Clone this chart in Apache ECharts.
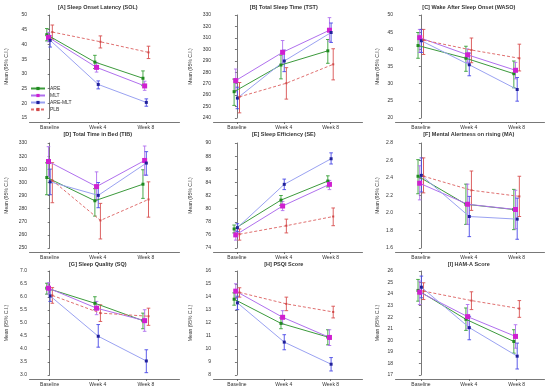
<!DOCTYPE html>
<html><head><meta charset="utf-8">
<script src="https://cdn.jsdelivr.net/npm/echarts@6/dist/echarts.min.js"></script>
<style>html,body{margin:0;padding:0;background:#fff}#c{width:550px;height:391px}</style>
</head><body><div id="c"></div>
<script>
const categories = ['Baseline', 'Week 4', 'Week 8'];
const groups = ['ARE', 'MLT', 'ARE-MLT', 'PLB'];

// rows within each panel: ARE, MLT, ARE-MLT, PLB
const solMean = [[43.3, 34.0, 28.5], [42.4, 32.2, 25.9], [41.4, 26.4, 20.3], [44.2, 40.9, 37.3]];
const solLow  = [[41.2, 31.8, 26.0], [40.9, 30.6, 24.4], [39.1, 24.9, 19.0], [41.8, 38.8, 35.2]];
const solHigh = [[45.4, 36.3, 31.0], [44.1, 33.8, 27.5], [42.9, 27.6, 21.5], [46.6, 42.9, 39.4]];

const tstMean = [[263.0, 286.3, 298.7], [272.7, 297.4, 316.7], [257.4, 289.8, 314.7], [258.5, 270.4, 286.9]];
const tstLow  = [[251.0, 274.2, 287.8], [262.9, 287.0, 307.1], [248.1, 280.5, 306.0], [244.5, 256.5, 273.3]];
const tstHigh = [[274.0, 295.0, 308.6], [282.8, 307.7, 327.7], [266.9, 299.3, 323.0], [271.0, 284.0, 300.5]];

const wasoMean = [[41.1, 37.4, 32.9], [43.4, 38.4, 33.9], [42.5, 35.5, 28.3], [42.7, 39.8, 37.4]];
const wasoLow  = [[37.4, 33.6, 28.8], [39.1, 36.2, 31.4], [39.1, 32.3, 24.9], [38.5, 36.1, 33.7]];
const wasoHigh = [[44.9, 40.9, 36.6], [45.8, 40.1, 36.2], [45.8, 38.9, 31.8], [45.8, 43.3, 41.5]];

const tibMean = [[303.7, 286.0, 298.6], [315.9, 296.8, 316.7], [300.4, 290.1, 314.7], [301.5, 271.0, 287.0]];
const tibLow  = [[290.6, 274.3, 287.8], [304.7, 286.5, 305.5], [290.6, 280.7, 305.5], [284.5, 256.9, 273.5]];
const tibHigh = [[314.9, 295.2, 309.6], [327.2, 308.0, 327.7], [310.1, 299.9, 323.4], [315.0, 284.0, 300.4]];

const seMean = [[76.9, 81.3, 84.2], [76.0, 80.4, 83.7], [77.1, 83.7, 87.6], [76.1, 77.4, 78.8]];
const seLow  = [[76.3, 80.5, 83.3], [75.2, 79.7, 82.9], [76.5, 82.9, 86.8], [75.2, 76.3, 77.4]];
const seHigh = [[77.5, 82.0, 85.0], [76.7, 81.1, 84.3], [77.7, 84.5, 88.5], [76.9, 78.4, 80.1]];

const maMean = [[2.42, 2.10, 2.04], [2.34, 2.10, 2.04], [2.43, 1.96, 1.93], [2.42, 2.26, 2.19]];
const maLow  = [[2.22, 1.87, 1.81], [2.15, 1.87, 1.82], [2.24, 1.73, 1.70], [2.23, 2.03, 1.96]];
const maHigh = [[2.61, 2.33, 2.27], [2.54, 2.33, 2.26], [2.63, 2.19, 2.17], [2.63, 2.48, 2.42]];

const sqMean = [[6.34, 5.76, 5.09], [6.34, 5.57, 5.09], [6.04, 4.49, 3.54], [6.06, 5.38, 5.26]];
const sqLow  = [[6.11, 5.51, 4.78], [6.12, 5.32, 4.68], [5.83, 4.07, 3.09], [5.76, 5.06, 4.91]];
const sqHigh = [[6.53, 6.01, 5.38], [6.55, 5.83, 5.51], [6.27, 4.94, 3.97], [6.36, 5.70, 5.57]];

const psqiMean = [[13.83, 11.97, 10.92], [14.45, 12.44, 10.89], [13.55, 10.53, 8.83], [14.35, 13.47, 12.85]];
const psqiLow  = [[13.37, 11.56, 10.32], [13.88, 11.92, 10.27], [13.03, 9.94, 8.31], [13.99, 12.95, 12.39]];
const psqiHigh = [[14.32, 12.39, 11.48], [15.02, 12.95, 11.48], [14.06, 11.10, 9.34], [14.71, 13.99, 13.29]];

const hamaMean = [[24.32, 21.82, 19.90], [24.17, 22.05, 20.34], [24.60, 21.10, 18.63], [24.26, 23.44, 22.75]];
const hamaLow  = [[23.39, 20.86, 18.89], [23.10, 21.00, 19.32], [23.68, 20.05, 17.52], [23.53, 22.66, 21.99]];
const hamaHigh = [[25.27, 22.80, 20.92], [25.13, 23.10, 21.35], [25.56, 22.08, 19.76], [24.98, 24.20, 23.44]];

const panels = [
  {title: '[A] Sleep Onset Latency (SOL)', mean: solMean, low: solLow, high: solHigh, yMin: 15, yMax: 50, yInt: 5, dec: 0},
  {title: '[B] Total Sleep Time (TST)', mean: tstMean, low: tstLow, high: tstHigh, yMin: 240, yMax: 330, yInt: 10, dec: 0},
  {title: '[C] Wake After Sleep Onset (WASO)', mean: wasoMean, low: wasoLow, high: wasoHigh, yMin: 20, yMax: 50, yInt: 5, dec: 0},
  {title: '[D] Total Time in Bed (TIB)', mean: tibMean, low: tibLow, high: tibHigh, yMin: 250, yMax: 330, yInt: 10, dec: 0},
  {title: '[E] Sleep Efficiency (SE)', mean: seMean, low: seLow, high: seHigh, yMin: 74, yMax: 90, yInt: 2, dec: 0},
  {title: '[F] Mental Alertness on rising (MA)', mean: maMean, low: maLow, high: maHigh, yMin: 1.6, yMax: 2.8, yInt: 0.2, dec: 1},
  {title: '[G] Sleep Quality (SQ)', mean: sqMean, low: sqLow, high: sqHigh, yMin: 3.0, yMax: 7.0, yInt: 0.5, dec: 1},
  {title: '[H] PSQI Score', mean: psqiMean, low: psqiLow, high: psqiHigh, yMin: 8, yMax: 16, yInt: 1, dec: 0},
  {title: '[I] HAM-A Score', mean: hamaMean, low: hamaLow, high: hamaHigh, yMin: 17, yMax: 26, yInt: 1, dec: 0}
];

// layout
const cols = [
  {left: 29.5, xMin: -0.42, xMax: 2.7, width: 150, nameGap: 20},
  {left: 213.5, xMin: -0.5, xMax: 2.68, width: 149, nameGap: 20},
  {left: 395.5, xMin: -0.53, xMax: 2.58, width: 149, nameGap: 15}
];
const rows = [
  {top: 15, height: 103, titleTop: 4},
  {top: 143, height: 105, titleTop: 131},
  {top: 271, height: 104, titleTop: 261}
];
const offsets = [-0.06, -0.025, 0.01, 0.055];
const lineColors = ['#3c9a3c', '#b070ee', '#9aa2f2', '#e07070'];
const markColors = ['#1f8a1f', '#d020d0', '#20209a', '#d04848'];
const barColors  = ['#38a038', '#b070ee', '#4a4ae6', '#d85050'];
const markSizes  = [3, 5, 3, 2];
const FONT = 'Liberation Sans, Arial, sans-serif';

const option = {
  animation: false,
  backgroundColor: '#fff',
  title: [], grid: [], xAxis: [], yAxis: [], series: [],
  legend: {
    data: groups, orient: 'vertical', left: 30, top: 86, itemWidth: 14, itemHeight: 4, itemGap: 2,
    padding: 0, textStyle: {fontSize: 5, color: '#333', fontFamily: FONT}
  }
};

panels.forEach((p, i) => {
  const c = cols[i % 3], r = rows[Math.floor(i / 3)];
  option.title.push({
    text: p.title, left: c.left + (1 - c.xMin) * c.width / (c.xMax - c.xMin), top: r.titleTop,
    textAlign: 'center', padding: 0,
    textStyle: {fontSize: 5.5, fontWeight: 'bold', color: '#333', fontFamily: FONT}
  });
  option.grid.push({left: c.left, top: r.top, width: c.width, height: r.height});
  option.xAxis.push({
    type: 'value', gridIndex: i, min: c.xMin, max: c.xMax, offset: 4,
    axisLine: {show: true, onZero: false, lineStyle: {color: '#555', width: 0.8}},
    axisTick: {show: true, length: 2, customValues: [0, 1, 2], lineStyle: {color: '#555', width: 0.8}},
    axisLabel: {customValues: [0, 1, 2], fontSize: 5, color: '#333', margin: 3, fontFamily: FONT,
      formatter: v => categories[Math.round(v)] || ''},
    splitLine: {show: false}
  });
  option.yAxis.push({
    type: 'value', gridIndex: i, min: p.yMin, max: p.yMax, interval: p.yInt,
    name: 'Mean (95% C.I.)', nameLocation: 'middle', nameGap: c.nameGap,
    nameTextStyle: {fontSize: 5, color: '#333', fontFamily: FONT},
    axisLine: {show: true, lineStyle: {color: '#555', width: 0.8}},
    axisTick: {show: true, length: 2, lineStyle: {color: '#555', width: 0.8}},
    axisLabel: {fontSize: 5, color: '#333', margin: 2.5, fontFamily: FONT,
      formatter: v => v.toFixed(p.dec)},
    splitLine: {show: false}
  });
  groups.forEach((g, k) => {
    const errData = categories.map((_, j) => [j + offsets[k], p.low[k][j], p.high[k][j]]);
    option.series.push({
      type: 'line', name: g, xAxisIndex: i, yAxisIndex: i, z: 3,
      data: categories.map((_, j) => [j + offsets[k], p.mean[k][j]]),
      symbol: 'rect', symbolSize: markSizes[k],
      itemStyle: {color: markColors[k]},
      lineStyle: {color: lineColors[k], width: 1, type: k === 3 ? [3, 2] : 'solid'}
    });
    option.series.push({
      type: 'custom', name: g + ' 95% CI', xAxisIndex: i, yAxisIndex: i, z: 2, clip: false,
      encode: {x: 0, y: [1, 2]}, data: errData,
      renderItem: (params, api) => {
        const x = api.value(0);
        const a = api.coord([x, api.value(1)]);
        const b = api.coord([x, api.value(2)]);
        const st = {stroke: barColors[k], lineWidth: 0.9};
        return {type: 'group', children: [
          {type: 'line', shape: {x1: a[0], y1: a[1], x2: b[0], y2: b[1]}, style: st},
          {type: 'line', shape: {x1: a[0] - 1.8, y1: a[1], x2: a[0] + 1.8, y2: a[1]}, style: st},
          {type: 'line', shape: {x1: b[0] - 1.8, y1: b[1], x2: b[0] + 1.8, y2: b[1]}, style: st}
        ]};
      }
    });
  });
});

const chart = echarts.init(document.getElementById('c'), null, {renderer: 'canvas'});
chart.setOption(option);
</script></body></html>
